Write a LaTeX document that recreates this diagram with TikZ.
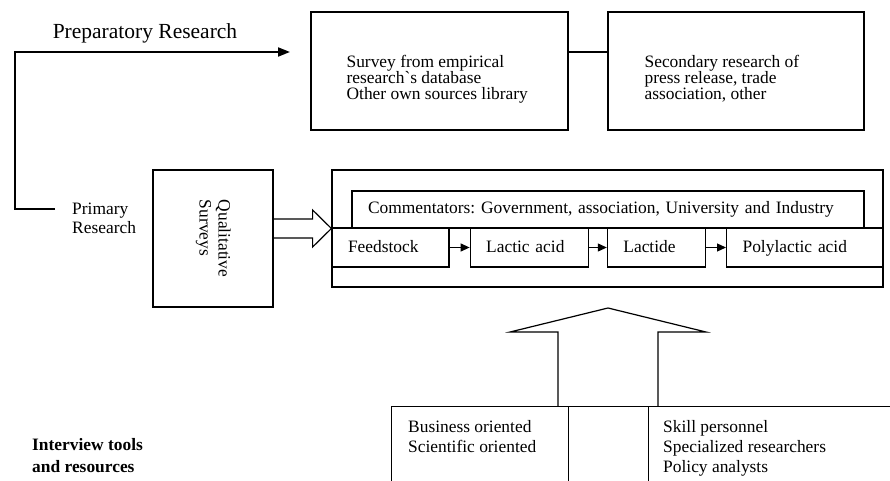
\documentclass[tikz,border=0pt]{standalone}
\usepackage{fontspec}
\setmainfont{Liberation Serif}
\usepackage{graphicx}
\usetikzlibrary{arrows.meta, positioning, calc}
\frenchspacing

\begin{document}
\begin{tikzpicture}[x=1pt, y=-1pt, node distance=20pt,
        panel/.style={rectangle, draw, line width=1.2pt, inner sep=0pt, font=\fontsize{17.4}{20}\selectfont},
        rowbox/.style={panel, text width=#1, align=left, inner xsep=16pt, text height=12.5pt, text depth=3.5pt},
        plain/.style={inner sep=0pt, align=left, font=\fontsize{17.4}{20}\selectfont},
        flowline/.style={line width=1.8pt, -{Triangle[length=12pt, width=9pt]}},
        steparrow/.style={line width=1.2pt, -{Triangle[length=9pt, width=8pt]}},
        hollow/.style={line width=1.2pt, line join=miter}
    ]
        \useasboundingbox (0,0) rectangle (890,481);

        % Nodes
        \node [plain, font=\fontsize{21.5}{24}\selectfont] (prep) at (145,33) {Preparatory Research};
        \node [panel, minimum width=257pt, minimum height=118pt] (survey) at (439.5,71) {};
        \node [panel, minimum width=256pt, minimum height=118pt] (secondary) at (736,71) {};
        \node [plain, font=\fontsize{17.4}{16}\selectfont, anchor=north west] (surveytext) at ($(survey.north west)+(36,44)$) {Survey from empirical\\research\textasciigrave s database\\Other own sources library};
        \node [plain, font=\fontsize{17.4}{16}\selectfont, anchor=north west] (secondtext) at ($(secondary.north west)+(37,44)$) {Secondary research of\\press release, trade\\association, other};

        \node [plain, font=\fontsize{17.4}{19}\selectfont, anchor=west] (primary) at (72,218.5) {Primary\\Research};
        \node [panel, minimum width=120pt, minimum height=137pt] (quals) at (213,238.5) {\rotatebox{-90}{\fontsize{17.4}{19}\selectfont\begin{tabular}{@{}l@{}}Qualitative\\Surveys\end{tabular}}};

        \node [panel, minimum width=551pt, minimum height=117pt] (chain) at (607.5,228.5) {};
        \node [panel, minimum width=512pt, minimum height=37pt, text width=480pt, align=left, inner xsep=16pt] (comment) at (608,209.5) {Commentators: Government, association, University and Industry};
        \node [rowbox=85pt, minimum height=39pt] (feedstock) at (390.5,247.5) {Feedstock};
        \node [rowbox=86pt, minimum height=39pt, right=20pt of feedstock] (lactic) {Lactic acid};
        \node [rowbox=66pt, minimum height=39pt, right=18pt of lactic] (lactide) {Lactide};
        \node [rowbox=125pt, minimum height=39pt, right=20pt of lactide] (polylactic) {Polylactic acid};

        \node [panel, anchor=north west, minimum width=177pt, minimum height=100pt] (orient) at (391,406) {};
        \node [panel, anchor=north west, minimum width=80pt, minimum height=100pt] (middle) at (568,406) {};
        \node [panel, anchor=north west, minimum width=260pt, minimum height=100pt] (staff) at (648,406) {};
        \node [plain, anchor=north west] (business) at ($(orient.north west)+(17,14)$) {Business oriented\\Scientific oriented};
        \node [plain, anchor=north west] (skill) at ($(staff.north west)+(15,14)$) {Skill personnel\\Specialized researchers\\Policy analysts};
        \node [plain, font=\fontsize{17.4}{22}\selectfont\bfseries, anchor=west] (tools) at (32,456) {Interview tools\\and resources};

        \coordinate (primEnd) at (55,209);
        \coordinate (prepEnd) at (290,52);
        \coordinate (upTip) at (608,308);

        % Arrows
        \draw [flowline] (primEnd) -- ++(-40,0) |- (prepEnd);
        \draw [line width=1.2pt] (survey.east |- prepEnd) -- (secondary.west |- prepEnd);
        \draw [hollow] ($(quals.east |- chain.west)+(0,-9.5)$) -- ++(39,0) -- ++(0,-9) -- (chain.west)
            -- ($(quals.east |- chain.west)+(39,18.5)$) -- ++(0,-9) -- ++(-39,0);
        \draw [steparrow] (feedstock) -- (lactic);
        \draw [steparrow] (lactic) -- (lactide);
        \draw [steparrow] (lactide) -- (polylactic);
        \draw [hollow] ($(upTip)+(-50,98)$) -- ++(0,-74) -- ++(-48,0) -- (upTip) -- ++(98,24) -- ++(-48,0) -- ++(0,74);
    \end{tikzpicture}
\end{document}
